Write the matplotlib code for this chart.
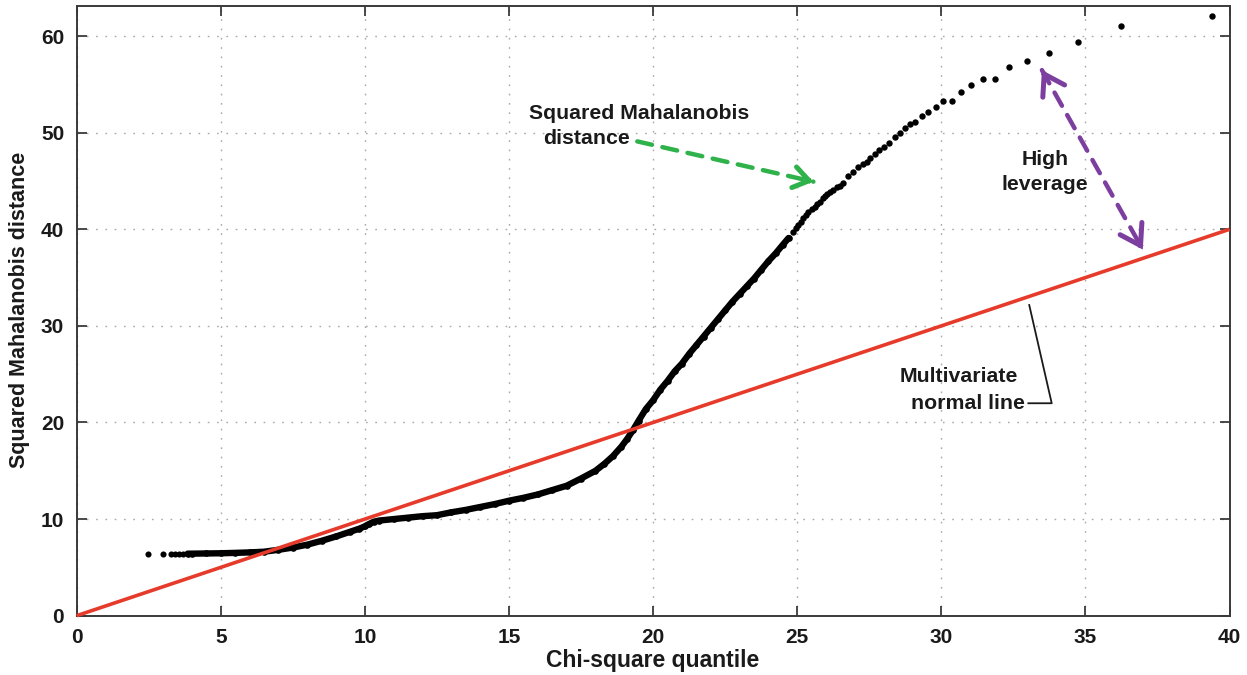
import matplotlib
matplotlib.use("Agg")
import matplotlib.pyplot as plt

# ---- data -------------------------------------------------------------
# isolated low-end points
tail_x = [2.49, 3.00, 3.27, 3.41, 3.55, 3.70]
tail_y = [6.36, 6.38, 6.40, 6.40, 6.41, 6.41]

# dense body of the Q-Q curve (points overlap into a solid band)
body_x = [3.85, 4.0, 4.5, 5.0, 5.5, 6.0, 6.5, 7.0, 7.5, 8.0, 8.5, 9.0, 9.5, 9.8,
          10.0, 10.15, 10.3, 10.5, 11.0, 11.5, 12.0, 12.5, 13.0, 13.5, 14.0,
          14.5, 15.0, 15.5, 16.0, 16.5, 17.0, 17.5, 18.0, 18.3, 18.6, 18.9,
          19.1, 19.3, 19.5, 19.75, 20.0, 20.25, 20.5, 20.75, 21.0, 21.25, 21.5,
          21.75, 22.0, 22.25, 22.5, 22.75, 23.0, 23.25, 23.5, 23.75, 24.0,
          24.25, 24.5, 24.7]
body_y = [6.42, 6.42, 6.44, 6.46, 6.50, 6.55, 6.62, 6.82, 7.05, 7.35, 7.75, 8.2,
          8.7, 9.0, 9.25, 9.5, 9.72, 9.85, 10.0, 10.15, 10.3, 10.4, 10.7, 10.95,
          11.25, 11.55, 11.9, 12.2, 12.55, 13.0, 13.45, 14.2, 15.0, 15.7, 16.5,
          17.5, 18.3, 19.2, 20.2, 21.4, 22.3, 23.4, 24.3, 25.3, 26.1, 27.1, 28.0,
          28.9, 29.8, 30.7, 31.6, 32.5, 33.3, 34.1, 34.9, 35.8, 36.7, 37.5,
          38.4, 39.1]

# upper points, increasingly sparse
upper_x = [24.86, 24.95, 25.04, 25.12, 25.21, 25.3, 25.39, 25.5, 25.62, 25.7,
           25.79, 25.88, 25.96, 26.05, 26.14, 26.25, 26.37, 26.48, 26.6, 26.77,
           26.93, 27.12, 27.29, 27.41, 27.53, 27.7, 27.85, 28.01, 28.2, 28.39,
           28.57, 28.74, 28.92, 29.09, 29.32, 29.55, 29.82, 30.07, 30.36,
           30.67, 31.02, 31.45, 31.85, 32.36, 32.97, 33.73, 34.73, 36.25, 39.38]
upper_y = [39.75, 40.1, 40.45, 40.8, 41.14, 41.5, 41.82, 42.1, 42.34, 42.6,
           42.86, 43.2, 43.45, 43.7, 43.89, 44.1, 44.35, 44.5, 44.76, 45.52,
           45.96, 46.42, 46.76, 47.0, 47.35, 47.79, 48.2, 48.49, 48.9, 49.52,
           50.0, 50.45, 50.9, 51.08, 51.73, 52.17, 52.69, 53.25, 53.31,
           54.2, 54.9, 55.55, 55.6, 56.75, 57.45, 58.2, 59.4, 61.0, 62.1]

# reference line for a multivariate normal sample
ref_x = [0, 40]
ref_y = [0, 40]

x_ticks = [0, 5, 10, 15, 20, 25, 30, 35, 40]
y_ticks = [0, 10, 20, 30, 40, 50, 60]

# ---- figure -----------------------------------------------------------
FONT = "Liberation Sans"
plt.rcParams["font.family"] = [FONT, "DejaVu Sans"]
plt.rcParams["font.weight"] = "bold"

TXT = "#1a1a1a"
NOTE_SIZE = 15.3

fig = plt.figure(figsize=(12.47, 6.75), dpi=100)
ax = fig.add_axes([0.0615, 0.0879, 0.9245, 0.9037])

spine_c = "#3a3a3a"
for s in ax.spines.values():
    s.set_color(spine_c)
    s.set_linewidth(1.4)

ax.set_xlim(0, 40)
ax.set_ylim(0, 63.15)
ax.set_xticks(x_ticks)
ax.set_yticks(y_ticks)
ax.tick_params(direction="in", length=7, width=1.3, color=spine_c,
               top=True, right=True, labelsize=15, pad=9,
               labelcolor=TXT)
for lab in ax.get_xticklabels() + ax.get_yticklabels():
    lab.set_fontweight("bold")

ax.grid(True, color="#a8a8a8", linewidth=1.0, linestyle=(0, (1.2, 5.5)))
ax.set_axisbelow(True)

# points
dot = dict(color="black", marker="o", markeredgewidth=0)
ax.plot(tail_x, tail_y, linestyle="none", markersize=4.4, zorder=3, **dot)
ax.plot(body_x, body_y, linestyle="-", linewidth=4.6, solid_capstyle="round",
        markersize=4.8, zorder=3, **dot)
ax.plot(upper_x, upper_y, linestyle="none", markersize=4.6, zorder=3, **dot)

# reference line
ax.plot(ref_x, ref_y, color="#e63b2a", linewidth=2.6, zorder=4,
        solid_capstyle="butt", clip_on=False)


def dashed_arrow(start, end, color, heads=("end",), hl=0.6, hw=0.4):
    ax.annotate("", xy=end, xytext=start,
                arrowprops=dict(arrowstyle="-", color=color, lw=3.2,
                                linestyle=(0, (3.4, 2.4)),
                                shrinkA=0, shrinkB=0), zorder=5)
    tips = []
    if "end" in heads:
        tips.append((end, start))
    if "start" in heads:
        tips.append((start, end))
    for tip, other in tips:
        back = (tip[0] + 0.02 * (other[0] - tip[0]),
                tip[1] + 0.02 * (other[1] - tip[1]))
        ax.annotate("", xy=tip, xytext=back,
                    arrowprops=dict(arrowstyle=f"->,head_length={hl},head_width={hw}",
                                    color=color, lw=3.6, shrinkA=0, shrinkB=0,
                                    mutation_scale=20, joinstyle="miter"),
                    zorder=5)


# "Squared Mahalanobis distance" callout
ax.text(15.69, 52.0, "Squared Mahalanobis", fontsize=NOTE_SIZE,
        fontweight="bold", ha="left", va="center", color=TXT)
ax.text(16.18, 49.4, "distance", fontsize=NOTE_SIZE, fontweight="bold",
        ha="left", va="center", color=TXT)
dashed_arrow((19.45, 49.1), (25.56, 44.93), "#2fb24a", hl=0.55, hw=0.38)

# "High leverage" callout
ax.text(33.6, 47.2, "High", fontsize=NOTE_SIZE, fontweight="bold",
        ha="center", va="center", color=TXT)
ax.text(33.6, 44.6, "leverage", fontsize=NOTE_SIZE, fontweight="bold",
        ha="center", va="center", color=TXT)
dashed_arrow((33.49, 56.48), (36.99, 37.9), "#7d3f9f",
             heads=("start", "end"), hl=0.7, hw=0.45)

# "Multivariate normal line" callout
ax.text(28.55, 24.75, "Multivariate", fontsize=NOTE_SIZE, fontweight="bold",
        ha="left", va="center", color=TXT)
ax.text(28.95, 22.0, "normal line", fontsize=NOTE_SIZE, fontweight="bold",
        ha="left", va="center", color=TXT)
ax.plot([33.02, 33.83, 33.05], [21.99, 21.99, 32.16], color=TXT,
        linewidth=1.3, zorder=5)

# axis labels
fig.text(653 / 1247, 1 - 661 / 675, "Chi-square quantile", fontsize=16.5,
         fontweight="bold", ha="center", va="center", color=TXT)
fig.text(20 / 1247, 1 - 310 / 675, "Squared Mahalanobis distance",
         fontsize=15.5, fontweight="bold", rotation=90,
         ha="center", va="center", color=TXT)

fig.savefig("out.png", dpi=100, facecolor="white")
